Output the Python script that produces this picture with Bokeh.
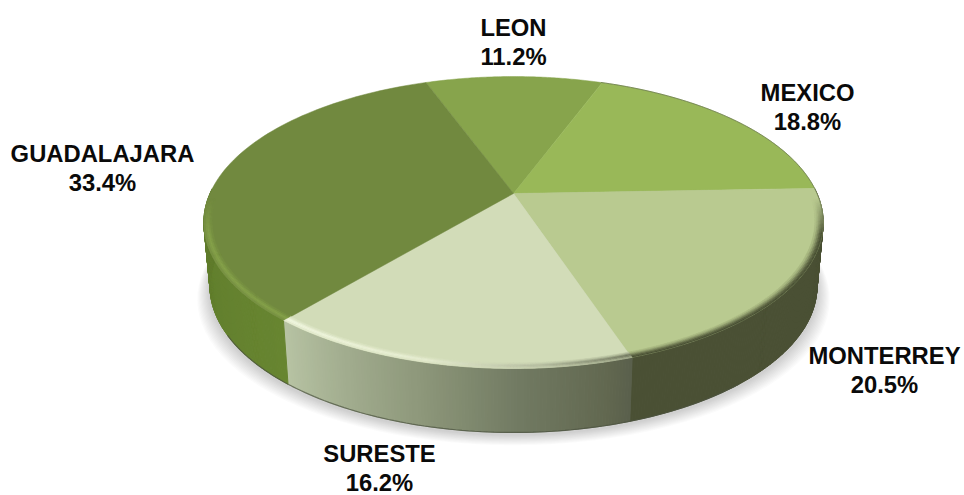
import math
from bokeh.plotting import figure
from bokeh.models import Range1d
from bokeh.core.properties import value
from bokeh.embed import file_html
from bokeh.resources import INLINE

categories = ["LEON", "MEXICO", "MONTERREY", "SURESTE", "GUADALAJARA"]
shares = [11.2, 18.8, 20.5, 16.2, 33.4]

top_colors = ["#87a44c", "#99b858", "#b9ca90", "#d2dcb8", "#71893f"]
label_x = [513, 807, 884, 379, 102]
label_y = [27, 92, 355, 453, 153]

# Projection of the round disc on the page (page pixels)
CX, CY, A, B, K = 513.0, 193.0, 303.5, 140.2, 0.1986
START = -20.0
DEPTH = 64.0
BOTTOM_SCALE = 0.98


def proj(theta, r=1.0):
    t = math.radians(theta)
    u, v = r * math.sin(t), r * math.cos(t)
    d = 1 + K * v
    return CX + A * u / d, CY - B * v / d


def mix(c1, c2, t):
    t = max(0.0, min(1.0, t))
    a = [int(c1[i:i + 2], 16) for i in (1, 3, 5)]
    b = [int(c2[i:i + 2], 16) for i in (1, 3, 5)]
    return "#%02x%02x%02x" % tuple(round(x + (y - x) * t) for x, y in zip(a, b))


def ramp(stops, x):
    for (x0, c0), (x1, c1) in zip(stops, stops[1:]):
        if x <= x1:
            return mix(c0, c1, (x - x0) / (x1 - x0))
    return stops[-1][1]


def steps(a, b, n):
    return [a + (b - a) * i / n for i in range(n + 1)]


# slice boundaries come from the values
total = sum(shares)
edges = [START]
for s in shares:
    edges.append(edges[-1] + s / total * 360.0)

p = figure(width=964, height=495, toolbar_location=None, output_backend="svg",
           x_range=Range1d(0, 964), y_range=Range1d(495, 0), min_border=0)
p.axis.visible = False
p.grid.visible = False
p.outline_line_color = None
p.background_fill_color = "white"
p.border_fill_color = "white"

# soft shadow
for i in range(12):
    g = steps(0, 360, 120)
    grow = 1.0 + (12 - i) * 0.0035
    xs = [CX + (proj(t)[0] - CX) * BOTTOM_SCALE * grow for t in g]
    ys = [proj(t)[1] + DEPTH + 2 + (12 - i) * 0.9 for t in g]
    p.patch(xs, ys, fill_color="#6a6a6a", fill_alpha=0.022, line_color=None)


def wall_color(theta):
    th = theta % 360
    if th < edges[3]:
        return "#4a5034"
    if th < edges[4]:
        x = (th - edges[3]) / (edges[4] - edges[3])
        return ramp([(0, "#5a604c"), (0.06, "#61674f"), (0.3, "#717a62"),
                     (0.55, "#8c9679"), (0.8, "#a3ae90"), (1, "#b7c3a3")], x)
    return mix("#678530", "#5f7b2c", (th - edges[4]) / 50)


# side wall, painted as narrow strips
wx, wy, wc = [], [], []
wall_angles = steps(88, 272, 368)
for a0, a1 in zip(wall_angles, wall_angles[1:]):
    x0, y0 = proj(a0)
    x1, y1 = proj(a1)
    xb0 = CX + (x0 - CX) * BOTTOM_SCALE
    xb1 = CX + (x1 - CX) * BOTTOM_SCALE
    wx.append([x0, x1, xb1, xb0])
    wy.append([y0, y1, y1 + DEPTH, y0 + DEPTH])
    wc.append(wall_color((a0 + a1) / 2))
p.patches(wx, wy, fill_color=wc, line_color=wc, line_width=1.0)

# thin dark lower lip of the wall
lip = steps(140, 240, 100)
p.line([CX + (proj(t)[0] - CX) * BOTTOM_SCALE for t in lip],
       [proj(t)[1] + DEPTH for t in lip], line_color="#4c5240", line_width=1.2, line_alpha=0.7)

# top of the pie
for i, col in enumerate(top_colors):
    g = steps(edges[i], edges[i + 1], 80)
    xs = [CX] + [proj(t)[0] for t in g]
    ys = [CY] + [proj(t)[1] for t in g]
    p.patch(xs, ys, fill_color=col, line_color=col, line_width=0.5)

# rounded bevel along the visible rim
rim_colors = {0: "#87a44c", 1: "#4f5636", 2: "#4a5034", 3: "#f2f8df", 4: "#85a14a"}


def slice_index(theta):
    th = theta % 360
    for i in range(5):
        lo, hi = edges[i], edges[i + 1]
        if lo <= th < hi or lo <= th + 360 < hi:
            return i
    return 4


bx, by, bc = [], [], []
radii = [0.974, 0.98, 0.985, 0.99, 0.995, 1.0]
mix_amount = [0.15, 0.35, 0.6, 0.85, 1.0]
bevel_angles = steps(92, 268, 352)
for a0, a1 in zip(bevel_angles, bevel_angles[1:]):
    mid = (a0 + a1) / 2
    i = slice_index(mid)
    fade = min(1.0, (mid - 92) / 14, (268 - mid) / 14)
    for j in range(5):
        r0, r1 = radii[j], radii[j + 1]
        pts = [proj(a0, r0), proj(a1, r0), proj(a1, r1), proj(a0, r1)]
        amt = mix_amount[j] * fade
        if i == 3:
            x = (mid - edges[3]) / (edges[4] - edges[3])
            wall = ramp([(0, "#6a7058"), (0.25, "#b3ba9e"), (0.55, "#e7eed2"), (1, "#f4f9e3")], x)
            amt = [0.25, 0.6, 0.95, 0.85, 0.55][j] * fade
        elif i == 4:
            wall = rim_colors[4]
            amt = [0.3, 0.7, 1.0, 0.8, 0.4][j] * fade
        else:
            wall = rim_colors[i]
        c = mix(top_colors[i], wall, amt)
        bx.append([q[0] for q in pts])
        by.append([q[1] for q in pts])
        bc.append(c)
p.patches(bx, by, fill_color=bc, line_color=bc, line_width=0.4)

# slim dark edge on the far rim
far = steps(20, 100, 80)
p.line([proj(t)[0] for t in far], [proj(t)[1] for t in far],
       line_color="#6d7a50", line_width=1.0, line_alpha=0.8)

# labels
pct = ["%.1f%%" % s for s in shares]
p.text(label_x, label_y, text=categories, text_font=value("Liberation Sans"), text_font_style="bold",
       text_font_size="23.8px", text_align="center", text_baseline="middle", text_color="#0a0a0a")
p.text(label_x, [y + 28.5 for y in label_y], text=pct, text_font=value("Liberation Sans"),
       text_font_style="bold", text_font_size="23.8px", text_align="center",
       text_baseline="middle", text_color="#0a0a0a")

open("out.html", "w").write(file_html(p, INLINE))
